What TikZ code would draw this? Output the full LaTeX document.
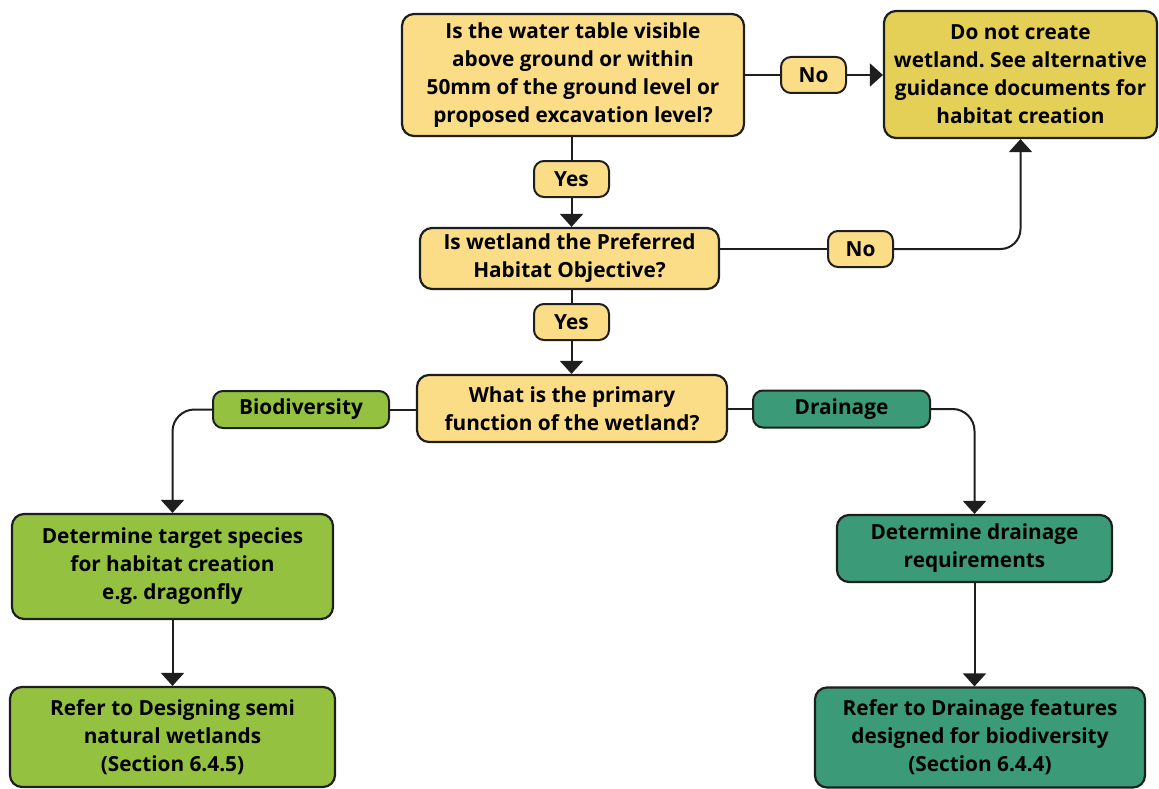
\documentclass[tikz,border=0pt]{standalone}
\usepackage{fontspec}
\setmainfont{Open Sans}
\frenchspacing
\usetikzlibrary{arrows.meta}
\definecolor{qyel}{HTML}{FBDD88}
\definecolor{dyel}{HTML}{E4CF57}
\definecolor{bgreen}{HTML}{94C240}
\definecolor{dteal}{HTML}{3B9B79}
\definecolor{edge}{HTML}{1E1E1E}
\tikzset{
  box/.style={draw=edge, line width=2.2pt, rounded corners=12pt, align=center,
    font=\fontsize{20.8}{28}\selectfont\bfseries, inner sep=0pt, text=black},
  lbl/.style={draw=edge, line width=2pt, rounded corners=10pt, align=center,
    font=\fontsize{20.8}{24}\selectfont\bfseries, inner sep=0pt, minimum height=36pt, text=black},
  conn/.style={draw=edge, line width=2pt},
  arr/.style={conn, -{Triangle[width=23pt,length=13pt]}},
}
\begin{document}
\begin{tikzpicture}[x=1pt,y=-1pt]
\useasboundingbox (0,0) rectangle (1159,789);
% main nodes
\node[box, fill=qyel, minimum width=342pt, minimum height=122pt] (q1) at (573,75)
  {Is the water table visible\\above ground or within\\50mm of the ground level or\\proposed excavation level?};
\node[box, fill=dyel, minimum width=273pt, minimum height=127pt] (stop) at (1020.5,74.5)
  {Do not create\\wetland. See alternative\\guidance documents for\\habitat creation};
\node[box, fill=qyel, minimum width=299pt, minimum height=61pt] (q2) at (569.5,258.5)
  {Is wetland the Preferred\\Habitat Objective?};
\node[box, fill=qyel, minimum width=310pt, minimum height=67pt] (q3) at (572,408.5)
  {What is the primary\\function of the wetland?};
\node[box, fill=bgreen, minimum width=321pt, minimum height=105pt] (b1) at (172.5,566.5)
  {Determine target species\\for habitat creation\\e.g. dragonfly};
\node[box, fill=dteal, minimum width=275pt, minimum height=67pt] (d1) at (974.5,548.5)
  {Determine drainage\\requirements};
\node[box, fill=bgreen, minimum width=325pt, minimum height=100pt] (b2) at (172.5,737)
  {Refer to Designing semi\\natural wetlands\\(Section 6.4.5)};
\node[box, fill=dteal, minimum width=330pt, minimum height=100pt] (d2) at (980,737.5)
  {Refer to Drainage features\\designed for biodiversity\\(Section 6.4.4)};
% labels
\node[lbl, fill=qyel, minimum width=65pt] (no1) at (813.5,75) {No};
\node[lbl, fill=qyel, minimum width=75pt] (yes1) at (571.5,179) {Yes};
\node[lbl, fill=qyel, minimum width=65pt] (no2) at (860.5,249) {No};
\node[lbl, fill=qyel, minimum width=75pt] (yes2) at (571.5,322) {Yes};
\node[lbl, fill=bgreen, minimum width=176pt, minimum height=37pt] (bio) at (301,409.5) {Biodiversity};
\node[lbl, fill=dteal, minimum width=177pt, minimum height=37pt] (dra) at (841.5,409) {Drainage};
% connectors
\draw[conn] (q1.east |- no1.west) -- (no1.west);
\draw[arr] (no1.east) -- (stop.west |- no1.east);
\draw[conn] (yes1.north |- q1.south) -- (yes1.north);
\draw[arr] (yes1.south) -- (yes1.south |- q2.north);
\draw[conn] (q2.east |- no2.west) -- (no2.west);
\draw[arr, rounded corners=20pt] (no2.east) -| (stop.south);
\draw[conn] (yes2.north |- q2.south) -- (yes2.north);
\draw[arr] (yes2.south) -- (yes2.south |- q3.north);
\draw[conn] (q3.west |- bio.east) -- (bio.east);
\draw[arr, rounded corners=22pt] (bio.west) -| (b1.north);
\draw[conn] (q3.east |- dra.west) -- (dra.west);
\draw[arr, rounded corners=22pt] (dra.east) -| (d1.north);
\draw[arr] (b1.south) -- (b1.south |- b2.north);
\draw[arr] (d1.south) -- (d1.south |- d2.north);
\end{tikzpicture}
\end{document}
